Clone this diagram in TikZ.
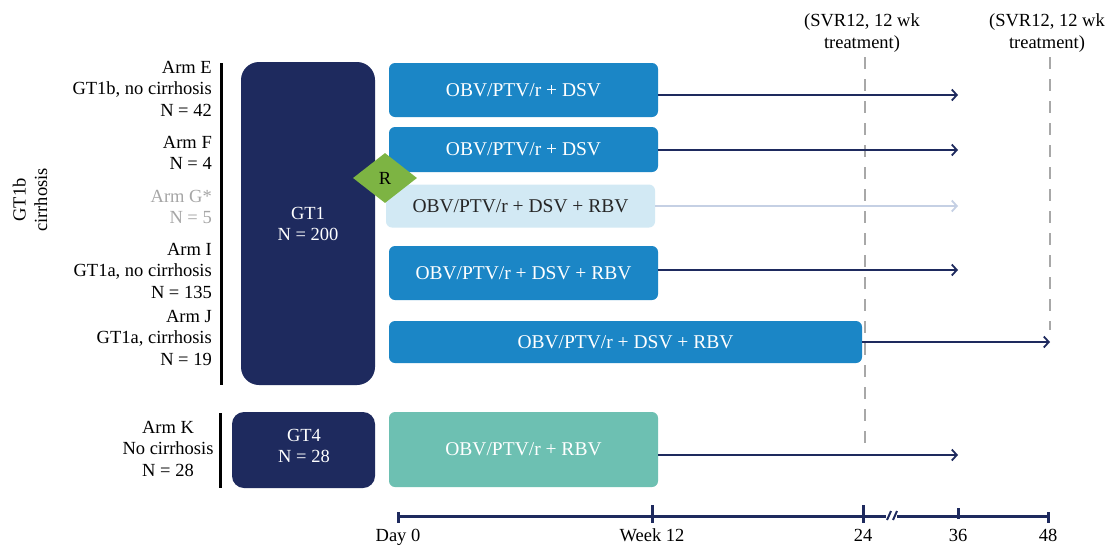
\documentclass[tikz,border=0pt]{standalone}
\usepackage{fontspec}
\setmainfont{Liberation Serif}
\usetikzlibrary{arrows.meta,shapes.geometric}
\definecolor{navy}{HTML}{1E2A5E}
\definecolor{tblue}{HTML}{1B86C6}
\definecolor{lblue}{HTML}{D2E9F4}
\definecolor{teal2}{HTML}{6DC0B2}
\definecolor{rgreen}{HTML}{7DB443}
\definecolor{dgray}{HTML}{A8A8A8}
\definecolor{larrow}{HTML}{C5D0E4}
\begin{document}
\begin{tikzpicture}[x=1pt,y=-1pt,
  txt/.style={font=\fontsize{18.5}{21.5}\selectfont},
  btxt/.style={font=\fontsize{19.5}{22}\selectfont},
  lab/.style={txt,align=right,anchor=north east,inner sep=0pt},
  trt/.style={fill=tblue,rounded corners=6pt,text=white,btxt,align=center,minimum height=0pt,inner sep=0pt},
  arr/.style={draw=navy,line width=1.8pt,-{Straight Barb[length=5pt,width=11pt,line width=1.8pt]}},
  vdash/.style={draw=dgray,line width=1.6pt,dash pattern=on 12pt off 10pt},
  tl/.style={draw=navy,line width=3pt},
]
\useasboundingbox[fill=white] (0,0) rectangle (1109,544);

% left bars
\draw[line width=3pt,black] (221,63) -- (221,385);
\draw[line width=3pt,black] (220,413) -- (220,488);

% left labels
\node[lab] (le) at (212,61) {Arm E\\GT1b, no cirrhosis\\N = 42};
\node[lab] (lf) at (212,136) {Arm F\\N = 4};
\node[lab,text=black!35] (lg) at (212,190) {Arm G*\\N = 5};
\node[lab] (li) at (212,243) {Arm I\\GT1a, no cirrhosis\\N = 135};
\node[lab] (lj) at (212,310) {Arm J\\GT1a, cirrhosis\\N = 19};
\node[txt,align=center,anchor=north,inner sep=0pt] (lk) at (168,421) {Arm K\\No cirrhosis\\N = 28};
\node[txt,align=center,rotate=90,inner sep=0pt] (gt1b) at (30,200) {GT1b\\cirrhosis};

% group boxes
\fill[navy,rounded corners=18pt] (241,62) rectangle (375,385);
\node[txt,text=white,align=center] (gt1) at (308,224) {GT1\\N = 200};
\fill[navy,rounded corners=12pt] (232,412) rectangle (375,488);
\node[txt,text=white,align=center] (gt4) at (304,446) {GT4\\N = 28};

% treatment boxes
\node[trt,minimum width=269pt,minimum height=54pt] (b1) at (523.5,90) {OBV/PTV/r + DSV};
\node[trt,minimum width=269pt,minimum height=45pt] (b2) at (523.5,149.5) {OBV/PTV/r + DSV};
\node[trt,fill=lblue,text=black!85,minimum width=269pt,minimum height=43pt] (b3) at (520.5,206) {OBV/PTV/r + DSV + RBV};
\node[trt,minimum width=269pt,minimum height=54pt] (b4) at (523.5,273) {OBV/PTV/r + DSV + RBV};
\node[trt,minimum width=473pt,minimum height=42pt] (b5) at (625.5,342) {OBV/PTV/r + DSV + RBV};
\node[trt,fill=teal2,minimum width=269pt,minimum height=75pt] (b6) at (523.5,449.5) {OBV/PTV/r + RBV};

% randomisation diamond
\node[diamond,fill=rgreen,minimum width=64pt,minimum height=50pt,inner sep=0pt,txt] (R) at (385,178) {R};

% dashed lines
\coordinate (d1t) at (865,57); \coordinate (d1b) at (865,448);
\coordinate (d2t) at (1050,57); \coordinate (d2b) at (1050,330);
\draw[vdash] (d1t) -- (d1b);
\draw[vdash] (d2t) -- (d2b);
\node[txt,align=center] (s1) at (862,33) {(SVR12, 12 wk\\treatment)};
\node[txt,align=center] (s2) at (1047,33) {(SVR12, 12 wk\\treatment)};

% arrows
\coordinate (e1) at (958,95); \coordinate (e2) at (958,150);
\coordinate (e3) at (958,206); \coordinate (e4) at (958,270);
\coordinate (e5) at (1050,342); \coordinate (e6) at (958,455);
\draw[arr] (b1.east |- e1) -- (e1);
\draw[arr] (b2.east |- e2) -- (e2);
\draw[arr,draw=larrow] (b3.east |- e3) -- (e3);
\draw[arr] (b4.east |- e4) -- (e4);
\draw[arr] (b5.east |- e5) -- (e5);
\draw[arr] (b6.east |- e6) -- (e6);

% timeline
\coordinate (t0) at (398,516); \coordinate (t12) at (652,516);
\coordinate (t24) at (863,516); \coordinate (tb1) at (886,516);
\coordinate (tb2) at (897,516); \coordinate (t36) at (958,516);
\coordinate (t48) at (1048,516);
\draw[tl] (t0) -- (tb1);
\draw[tl] (tb2) -- (t48);
\draw[tl] (398,512) -- (398,523);
\draw[tl] (1048,512) -- (1048,523);
\draw[tl] (652,505) -- (652,523);
\draw[tl] (863,505) -- (863,523);
\draw[tl] (958,508) -- (958,519);
\draw[navy,line width=2pt] (887,520) -- (891,511);
\draw[navy,line width=2pt] (893,520) -- (897,511);
\node[txt,anchor=base,inner sep=0pt] (l0) at (398,541) {Day 0};
\node[txt,anchor=base,inner sep=0pt] (l12) at (652,541) {Week 12};
\node[txt,anchor=base,inner sep=0pt] (l24) at (863,541) {24};
\node[txt,anchor=base,inner sep=0pt] (l36) at (958,541) {36};
\node[txt,anchor=base,inner sep=0pt] (l48) at (1048,541) {48};
\end{tikzpicture}
\end{document}
